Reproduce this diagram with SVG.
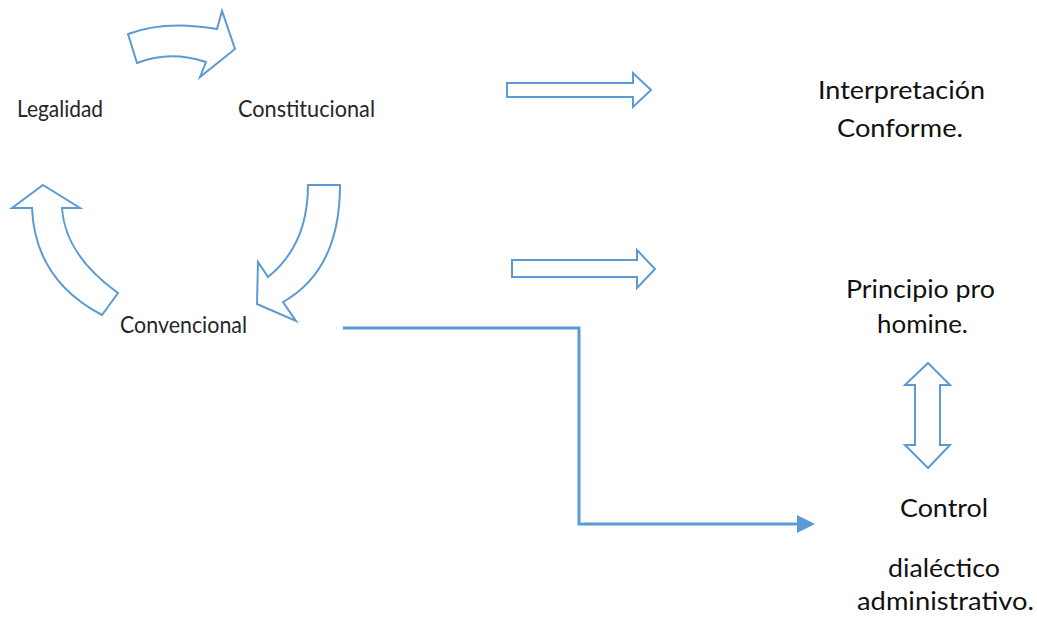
<svg xmlns="http://www.w3.org/2000/svg" width="1037" height="617" viewBox="0 0 1037 617">
  <style>
    .blk { fill: #ffffff; stroke: #5b9bd5; stroke-width: 2; stroke-linejoin: miter; }
    .conn { fill: none; stroke: #5b9bd5; stroke-width: 3; }
    .lbl { font-family: Lato, "Open Sans", sans-serif; fill: #262626; font-size: 22.5px; }
    .big { font-family: Lato, "Open Sans", sans-serif; fill: #111111; font-size: 25px; }
  </style>
  <defs>
    <marker id="ah" markerWidth="6" markerHeight="6" refX="5" refY="3" orient="auto" markerUnits="strokeWidth">
      <path d="M0,0 L6,3 L0,6 Z" fill="#5b9bd5"/>
    </marker>
  </defs>
  <rect width="1037" height="617" fill="#ffffff"/>

  <g id="arrow-top">
    <path class="blk" d="M128,34 Q165,20 217,29 L222,11 L235,49 L200,77 L206,62 Q170,50 137,63 Z"/>
  </g>
  <g id="arrow-right-down">
    <path class="blk" d="M308,185 H340 Q340,270 283,302 L296,321 L257,304 L258,262 L268,277 Q308,245 308,185 Z"/>
  </g>
  <g id="arrow-left-up">
    <path class="blk" d="M43,185 L80,208 H62 Q65,255 118,293 L102,315 Q35,280 32,208 H12 Z"/>
  </g>
  <g id="arrow-1">
    <path class="blk" d="M507,83 H633 V73 L651,90 L633,107 V97 H507 Z"/>
  </g>
  <g id="arrow-2">
    <path class="blk" d="M512,260 H637 V250 L655,269 L637,288 V277 H512 Z"/>
  </g>
  <g id="arrow-double">
    <path class="blk" d="M928,363 L950,385 H940 V445 H950 L928,468 L905,445 H915 V385 H905 Z"/>
  </g>

  <g id="connectors">
    <polyline class="conn" points="343,328 579,328 579,524 812,524" marker-end="url(#ah)"/>
  </g>

  <g id="node-legalidad">
    <text class="lbl" x="17" y="117" textLength="86" lengthAdjust="spacingAndGlyphs">Legalidad</text>
  </g>
  <g id="node-constitucional">
    <text class="lbl" x="238" y="117" textLength="137" lengthAdjust="spacingAndGlyphs">Constitucional</text>
  </g>
  <g id="node-convencional">
    <text class="lbl" x="120" y="333" textLength="127" lengthAdjust="spacingAndGlyphs">Convencional</text>
  </g>
  <g id="node-interpretacion">
    <text class="big" x="818" y="99" textLength="167" lengthAdjust="spacingAndGlyphs">Interpretación</text>
    <text class="big" x="837" y="137" textLength="126" lengthAdjust="spacingAndGlyphs">Conforme.</text>
  </g>
  <g id="node-pro-homine">
    <text class="big" x="846" y="298" textLength="149" lengthAdjust="spacingAndGlyphs">Principio pro</text>
    <text class="big" x="877" y="333" textLength="91" lengthAdjust="spacingAndGlyphs">homine.</text>
  </g>
  <g id="node-control">
    <text class="big" x="900" y="517" textLength="88" lengthAdjust="spacingAndGlyphs">Control</text>
    <text class="big" x="888" y="577" textLength="112" lengthAdjust="spacingAndGlyphs">dialéctico</text>
    <text class="big" x="857" y="610" textLength="177" lengthAdjust="spacingAndGlyphs">administrativo.</text>
  </g>
</svg>
